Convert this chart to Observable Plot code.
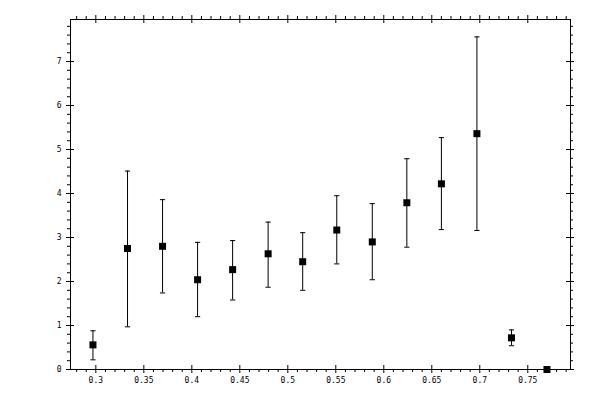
<!DOCTYPE html>
<html>
<head>
<meta charset="utf-8">
<script src="https://cdn.jsdelivr.net/npm/d3@7"></script>
<script src="https://cdn.jsdelivr.net/npm/@observablehq/plot@0.6"></script>
<style>
  html, body { margin: 0; padding: 0; background: #fff; }
  #chart svg { display: block; }
</style>
</head>
<body>
<div id="chart"></div>
<script>
// Data
const xValues = [0.297, 0.333, 0.3695, 0.406, 0.4425, 0.4795, 0.5155, 0.551, 0.588, 0.624, 0.660, 0.697, 0.733, 0.770];
const yValues = [0.56, 2.75, 2.80, 2.04, 2.27, 2.63, 2.45, 3.17, 2.90, 3.79, 4.22, 5.36, 0.72, 0.00];
const yHigh   = [0.88, 4.51, 3.86, 2.89, 2.93, 3.35, 3.11, 3.95, 3.77, 4.79, 5.27, 7.56, 0.90, 0.00];
const yLow    = [0.22, 0.97, 1.74, 1.20, 1.58, 1.87, 1.80, 2.40, 2.04, 2.78, 3.18, 3.16, 0.54, 0.00];

// Tick values and labels
const xMajorTicks = [0.3, 0.35, 0.4, 0.45, 0.5, 0.55, 0.6, 0.65, 0.7, 0.75];
const xTickLabels = ["0.3", "0.35", "0.4", "0.45", "0.5", "0.55", "0.6", "0.65", "0.7", "0.75"];
const yMajorTicks = [0, 1, 2, 3, 4, 5, 6, 7];
const yTickLabels = ["0", "1", "2", "3", "4", "5", "6", "7"];
const xMinorTicks = d3.range(28, 80).map(i => i / 100).filter(v => Math.round(v * 100) % 5 !== 0);
const yMinorTicks = d3.range(1, 40).map(i => i / 5).filter(v => Math.abs(v - Math.round(v)) > 1e-9);

const points = xValues.map((x, i) => ({x, y: yValues[i], hi: yHigh[i], lo: yLow[i]}));
const bars = points.filter(d => d.hi !== d.lo);

const W = 600, H = 400;
const mL = 70, mR = 30, mT = 19, mB = 31;
const pw = W - mL - mR, ph = H - mT - mB;

const capSymbol = {
  draw(context, size) {
    const w = Math.sqrt(size / Math.PI);
    context.moveTo(-w, 0);
    context.lineTo(w, 0);
  }
};

const font = {fontFamily: "DejaVu Sans Mono", fontSize: 8};

const chart = Plot.plot({
  width: W,
  height: H,
  marginLeft: mL, marginRight: mR, marginTop: mT, marginBottom: mB,
  style: {fontFamily: "DejaVu Sans Mono", fontSize: "8px", background: "white", color: "black"},
  x: {domain: [0.2736, 0.7945], axis: null, label: null},
  y: {domain: [0, 7.955], axis: null, label: null},
  marks: [
    Plot.frame({stroke: "black", strokeWidth: 1}),
    // major ticks (crossing the frame)
    Plot.tickX(xMajorTicks, {x: d => d, insetTop: ph - 4, insetBottom: -4, stroke: "black"}),
    Plot.tickX(xMajorTicks, {x: d => d, insetTop: -4, insetBottom: ph - 4, stroke: "black"}),
    Plot.tickY(yMajorTicks, {y: d => d, insetLeft: -4, insetRight: pw - 4, stroke: "black"}),
    Plot.tickY(yMajorTicks, {y: d => d, insetLeft: pw - 4, insetRight: -4, stroke: "black"}),
    // minor ticks (outward)
    Plot.tickX(xMinorTicks, {x: d => d, insetTop: ph, insetBottom: -3, stroke: "black"}),
    Plot.tickX(xMinorTicks, {x: d => d, insetTop: -3, insetBottom: ph, stroke: "black"}),
    Plot.tickY(yMinorTicks, {y: d => d, insetLeft: -3, insetRight: pw, stroke: "black"}),
    Plot.tickY(yMinorTicks, {y: d => d, insetLeft: pw, insetRight: -3, stroke: "black"}),
    // tick labels
    Plot.axisX(xMajorTicks, {anchor: "bottom", tickSize: 0, tickPadding: 8, label: null,
      tickFormat: d => xTickLabels[xMajorTicks.indexOf(d)], ...font, fill: "black"}),
    Plot.axisY(yMajorTicks, {anchor: "left", tickSize: 0, tickPadding: 9, label: null,
      tickFormat: d => yTickLabels[yMajorTicks.indexOf(d)], ...font, fill: "black"}),
    // error bars
    Plot.ruleX(bars, {x: "x", y1: "lo", y2: "hi", stroke: "black", strokeWidth: 1}),
    Plot.dot(bars, {x: "x", y: "hi", symbol: capSymbol, r: 2.6, stroke: "black", fill: "none", strokeWidth: 1}),
    Plot.dot(bars, {x: "x", y: "lo", symbol: capSymbol, r: 2.6, stroke: "black", fill: "none", strokeWidth: 1}),
    // points
    Plot.dot(points, {x: "x", y: "y", symbol: "square", r: 3.95, fill: "black", stroke: "none"})
  ]
});

document.getElementById("chart").appendChild(chart);
</script>
</body>
</html>
